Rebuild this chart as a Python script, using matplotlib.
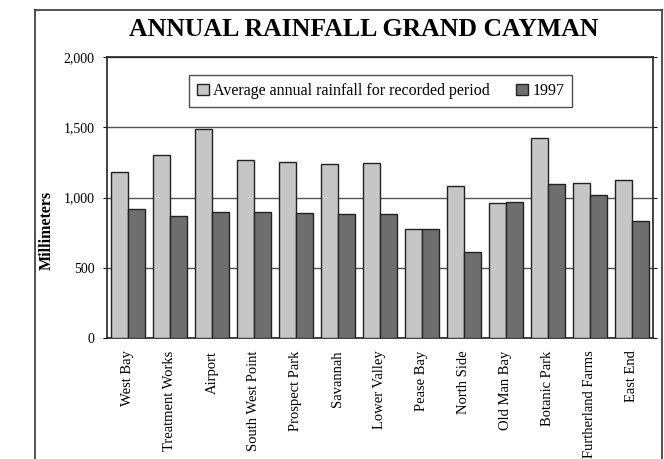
import matplotlib.pyplot as plt
from matplotlib.lines import Line2D
import numpy as np

stations = ['West Bay', 'Treatment Works', 'Airport', 'South West Point',
            'Prospect Park', 'Savannah', 'Lower Valley', 'Pease Bay',
            'North Side', 'Old Man Bay', 'Botanic Park', 'Furtherland Farms',
            'East End']
average = [1180, 1300, 1490, 1270, 1255, 1235, 1245, 775, 1080, 960, 1425, 1105, 1125]
rain_1997 = [920, 870, 900, 900, 890, 880, 880, 775, 610, 965, 1095, 1020, 830]
yticks = [0, 500, 1000, 1500, 2000]
ytick_labels = ['0', '500', '1,000', '1,500', '2,000']

plt.rcParams['font.family'] = ['Liberation Serif', 'DejaVu Serif']

fig = plt.figure(figsize=(6.64, 4.59), dpi=100)
ax = fig.add_axes([0.1611, 0.2636, 0.8223, 0.6122])

x = np.arange(len(stations))
w = 0.41
ax.bar(x - w / 2, average, w, color='#c6c6c6', edgecolor='#222222', linewidth=1,
       label='Average annual rainfall for recorded period', zorder=3)
ax.bar(x + w / 2, rain_1997, w, color='#6e6e6e', edgecolor='#222222', linewidth=1,
       label='1997', zorder=3)

ax.set_xlim(-0.5, len(stations) - 0.5)
ax.set_ylim(0, 2000)
ax.set_yticks(yticks)
ax.set_yticklabels(ytick_labels, fontsize=10)
ax.set_xticks(x)
ax.set_xticklabels(stations, rotation=90, fontsize=10.5)
ax.tick_params(axis='x', length=0, pad=9)
ax.tick_params(axis='y', length=3, right=True, pad=6)
ax.yaxis.grid(True, color='#555555', linewidth=1)
ax.set_axisbelow(True)
for s in ax.spines.values():
    s.set_linewidth(1.2)
    s.set_color('#222222')

ax.set_ylabel('Millimeters', fontsize=11.5, fontweight='bold')
ax.yaxis.set_label_coords(-0.095, 0.384)

leg = ax.legend(loc='upper center', bbox_to_anchor=(0.501, 0.936), ncol=2,
                fontsize=11.5, frameon=True, fancybox=False, edgecolor='#222222',
                handlelength=0.75, handleheight=0.75, handletextpad=0.3,
                columnspacing=1.6, borderpad=0.5, borderaxespad=0)
leg.get_frame().set_linewidth(1)

fig.text(0.548, 0.935, 'ANNUAL RAINFALL GRAND CAYMAN', ha='center', va='center',
         fontsize=18.5, fontweight='bold')

# outer chart frame
fx0, fx1, fy1 = 35 / 664, 662 / 664, 1 - 10 / 459
for xs, ys in [([fx0, fx1], [fy1, fy1]), ([fx0, fx0], [0, fy1]), ([fx1, fx1], [0, fy1])]:
    fig.add_artist(Line2D(xs, ys, color='#333333', linewidth=1.2, transform=fig.transFigure))

fig.savefig('out.png', dpi=100, facecolor='white')
